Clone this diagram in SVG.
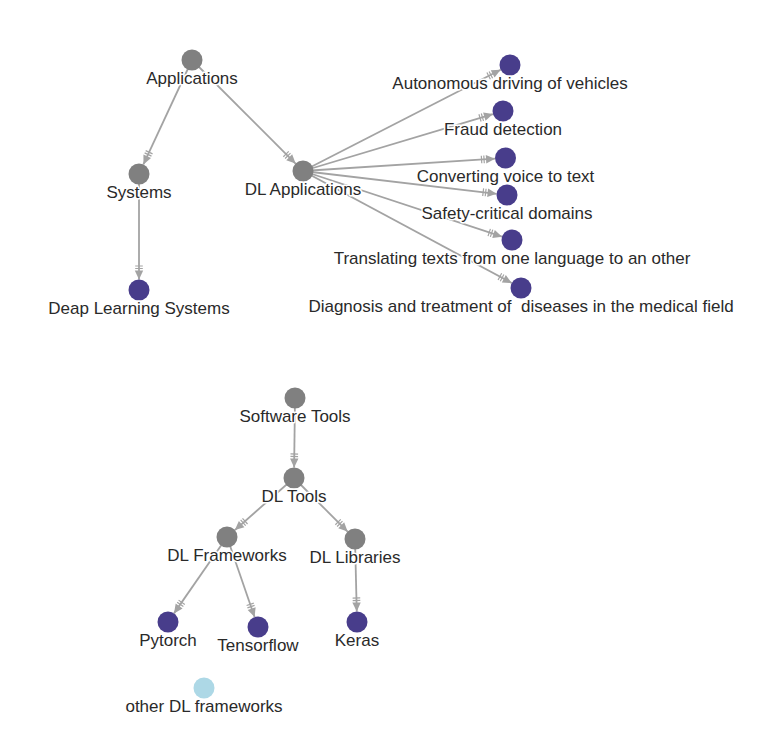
<svg xmlns="http://www.w3.org/2000/svg" width="774" height="736" viewBox="0 0 774 736">
<style>
.e{stroke:#a3a3a3;stroke-width:1.8;fill:none;marker-end:url(#arr)}
.g{fill:#808080}
.p{fill:#483d8b}
.l{fill:#add8e6}
text{font-family:"Liberation Sans",Arial,sans-serif;font-size:17px;fill:#2a2a2a;text-anchor:middle;stroke:#ffffff;stroke-width:3;paint-order:stroke;stroke-linejoin:round}
</style>
<defs>
<marker id="arr" markerUnits="userSpaceOnUse" markerWidth="20" markerHeight="12" viewBox="-16 -6 17 12" refX="0" refY="0" orient="auto">
<path d="M-9,-4.2 L0,0 L-9,4.2 Z" fill="#a3a3a3"/>
<path d="M-13.5,-3.8 L-13.5,3.8 M-11,-3.8 L-11,3.8" stroke="#a3a3a3" stroke-width="1.2"/>
</marker>
</defs>
<rect width="774" height="736" fill="#ffffff"/>
<g id="edges">
<line class="e" x1="192" y1="60" x2="143.43" y2="164.48"/>
<line class="e" x1="192" y1="60" x2="295.58" y2="163.58"/>
<line class="e" x1="139" y1="174" x2="139" y2="279.5"/>
<line class="e" x1="303" y1="171" x2="500.65" y2="69.78"/>
<line class="e" x1="303" y1="171" x2="492.94" y2="114.02"/>
<line class="e" x1="303" y1="171" x2="495.02" y2="158.67"/>
<line class="e" x1="303" y1="171" x2="496.57" y2="193.77"/>
<line class="e" x1="303" y1="171" x2="502.03" y2="236.71"/>
<line class="e" x1="303" y1="171" x2="511.75" y2="283.03"/>
<line class="e" x1="295" y1="398" x2="294.13" y2="467.5"/>
<line class="e" x1="294" y1="478" x2="234.88" y2="530.06"/>
<line class="e" x1="294" y1="478" x2="347.58" y2="531.58"/>
<line class="e" x1="227" y1="537" x2="173.99" y2="613.38"/>
<line class="e" x1="227" y1="537" x2="254.58" y2="617.07"/>
<line class="e" x1="355" y1="539" x2="356.75" y2="611.5"/>
</g>
<g id="n-applications"><circle class="g" cx="192" cy="60" r="10.5"/><text x="192" y="84">Applications</text></g>
<g id="n-systems"><circle class="g" cx="139" cy="174" r="10.5"/><text x="139" y="198">Systems</text></g>
<g id="n-deap"><circle class="p" cx="139" cy="290" r="10.5"/><text x="139" y="314">Deap Learning Systems</text></g>
<g id="n-dlapps"><circle class="g" cx="303" cy="171" r="10.5"/><text x="303" y="195">DL Applications</text></g>
<g id="n-auto"><circle class="p" cx="510" cy="65" r="10.5"/><text x="510" y="89">Autonomous driving of vehicles</text></g>
<g id="n-fraud"><circle class="p" cx="503" cy="111" r="10.5"/><text x="503" y="135">Fraud detection</text></g>
<g id="n-voice"><circle class="p" cx="505.5" cy="158" r="10.5"/><text x="505.5" y="182">Converting voice to text</text></g>
<g id="n-safety"><circle class="p" cx="507" cy="195" r="10.5"/><text x="507" y="219">Safety-critical domains</text></g>
<g id="n-translate"><circle class="p" cx="512" cy="240" r="10.5"/><text x="512" y="264">Translating texts from one language to an other</text></g>
<g id="n-diagnosis"><circle class="p" cx="521" cy="288" r="10.5"/><text x="521" y="312" xml:space="preserve">Diagnosis and treatment of  diseases in the medical field</text></g>
<g id="n-software"><circle class="g" cx="295" cy="398" r="10.5"/><text x="295" y="422">Software Tools</text></g>
<g id="n-dltools"><circle class="g" cx="294" cy="478" r="10.5"/><text x="294" y="502">DL Tools</text></g>
<g id="n-frameworks"><circle class="g" cx="227" cy="537" r="10.5"/><text x="227" y="561">DL Frameworks</text></g>
<g id="n-libraries"><circle class="g" cx="355" cy="539" r="10.5"/><text x="355" y="563">DL Libraries</text></g>
<g id="n-pytorch"><circle class="p" cx="168" cy="622" r="10.5"/><text x="168" y="646">Pytorch</text></g>
<g id="n-tensorflow"><circle class="p" cx="258" cy="627" r="10.5"/><text x="258" y="651">Tensorflow</text></g>
<g id="n-keras"><circle class="p" cx="357" cy="622" r="10.5"/><text x="357" y="646">Keras</text></g>
<g id="n-other"><circle class="l" cx="204" cy="688" r="10.5"/><text x="204" y="712">other DL frameworks</text></g>
</svg>
